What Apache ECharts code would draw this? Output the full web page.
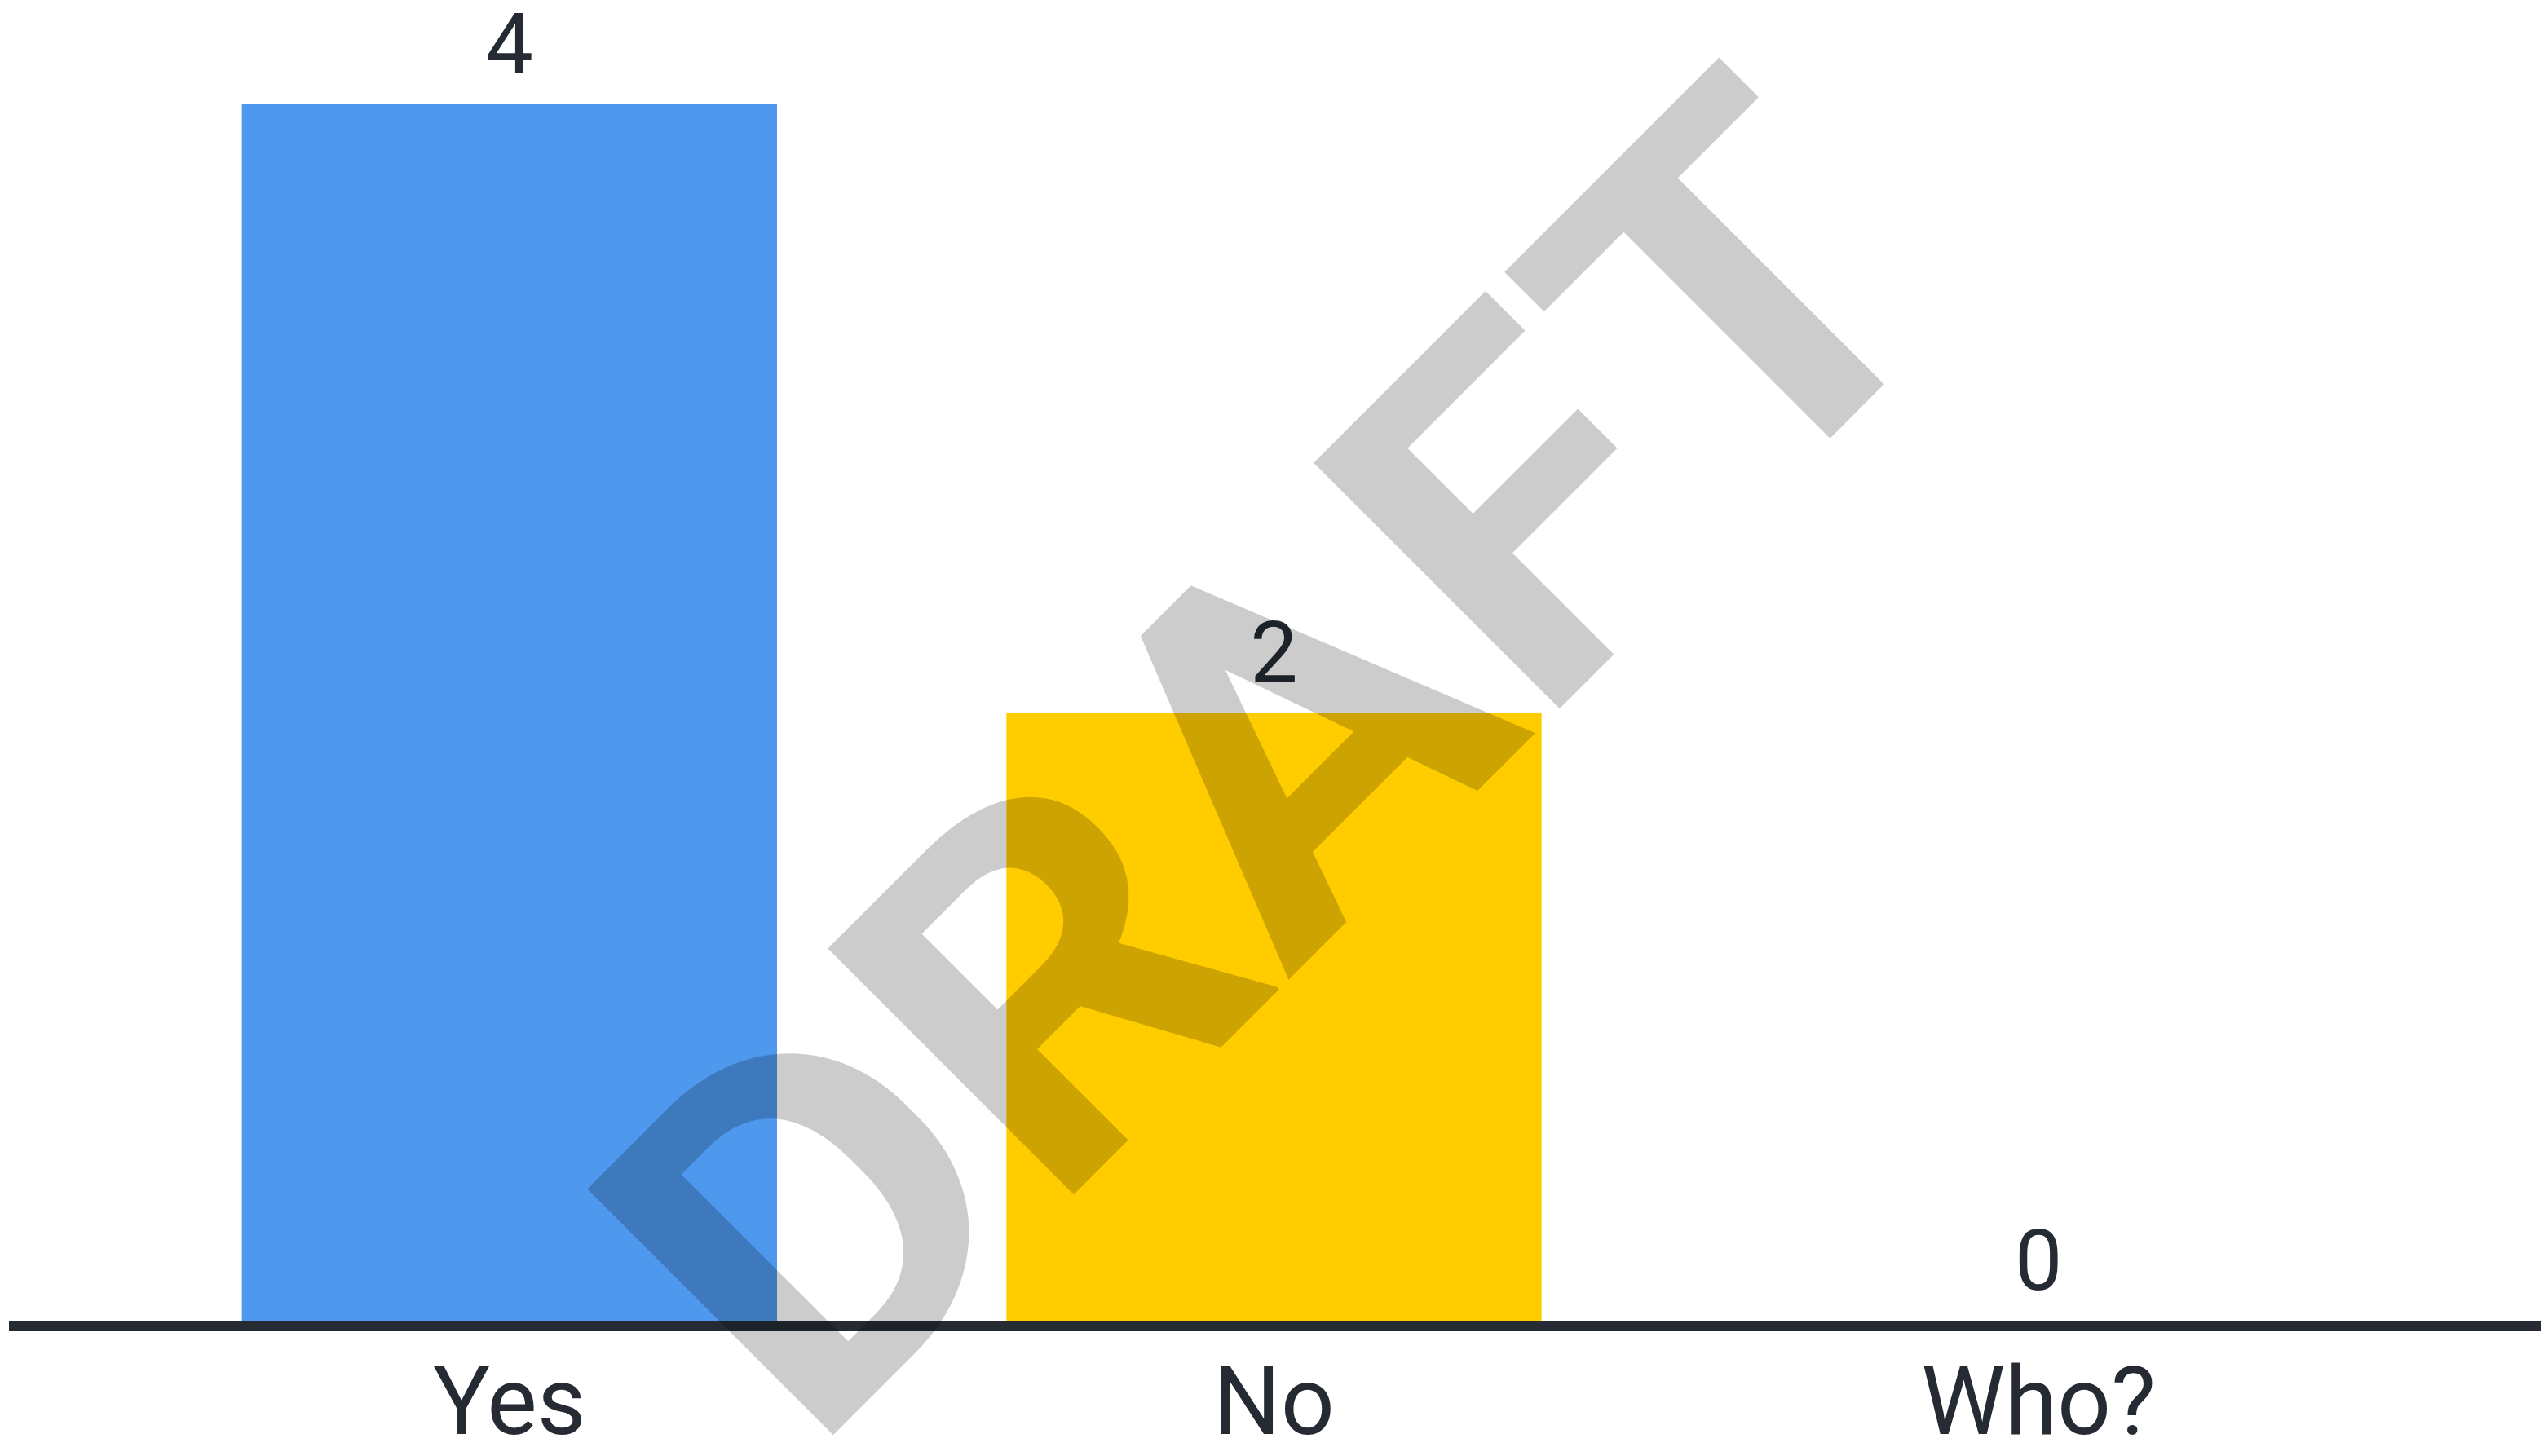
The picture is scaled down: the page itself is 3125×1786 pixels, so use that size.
<!DOCTYPE html>
<html>
<head>
<meta charset="utf-8">
<style>
  html, body { margin: 0; padding: 0; background: #ffffff; }
  #chart { width: 3125px; height: 1786px; }
</style>
<script src="https://cdn.jsdelivr.net/npm/echarts@6/dist/echarts.min.js"></script>
</head>
<body>
<div id="chart"></div>
<script>
// Poll answers
const categories = ['Yes', 'No', 'Who?'];
const counts = [4, 2, 0];
const barColors = ['#4e98ee', '#ffcc00', '#9e9e9e'];
const watermarkText = 'DRAFT';

const ink = '#252a33';
const chart = echarts.init(document.getElementById('chart'), null, { renderer: 'canvas' });

chart.setOption({
  backgroundColor: '#ffffff',
  animation: false,
  grid: [
    { left: 156, right: 156, top: 128, bottom: 166, outerBoundsMode: 'none', containLabel: false },
    // full-width baseline rule
    { left: 11, right: 9, top: 1500, bottom: 159.5, outerBoundsMode: 'none', containLabel: false }
  ],
  xAxis: [
    {
      type: 'category',
      gridIndex: 0,
      data: categories,
      axisLine: { show: false },
      axisTick: { show: false },
      axisLabel: {
        color: ink,
        fontFamily: 'Roboto',
        fontSize: 116,
        margin: 52
      }
    },
    {
      type: 'value',
      gridIndex: 1,
      z: 5,
      min: 0,
      max: 1,
      axisLine: { show: true, lineStyle: { color: ink, width: 13, cap: 'butt' } },
      axisTick: { show: false },
      axisLabel: { show: false },
      splitLine: { show: false }
    }
  ],
  yAxis: [
    { type: 'value', gridIndex: 0, min: 0, max: 4, show: false },
    { type: 'value', gridIndex: 1, min: 0, max: 1, show: false }
  ],
  series: [{
    type: 'bar',
    xAxisIndex: 0,
    yAxisIndex: 0,
    barWidth: '70%',
    itemStyle: { borderWidth: 0 },
    data: counts.map((v, i) => ({ value: v, itemStyle: { color: barColors[i] } })),
    label: {
      show: true,
      position: 'top',
      distance: 12,
      color: ink,
      fontFamily: 'Roboto',
      fontSize: 104
    }
  }],
  graphic: [{
    type: 'text',
    z: 100,
    x: 1600,
    y: 970,
    rotation: Math.PI / 4,
    scaleX: 1.07,
    style: {
      text: watermarkText,
      fontFamily: 'Roboto',
      fontWeight: 'bold',
      fontSize: 600,
      fill: 'rgba(0,0,0,0.2)',
      textAlign: 'center',
      textVerticalAlign: 'middle'
    }
  }]
});
</script>
</body>
</html>
